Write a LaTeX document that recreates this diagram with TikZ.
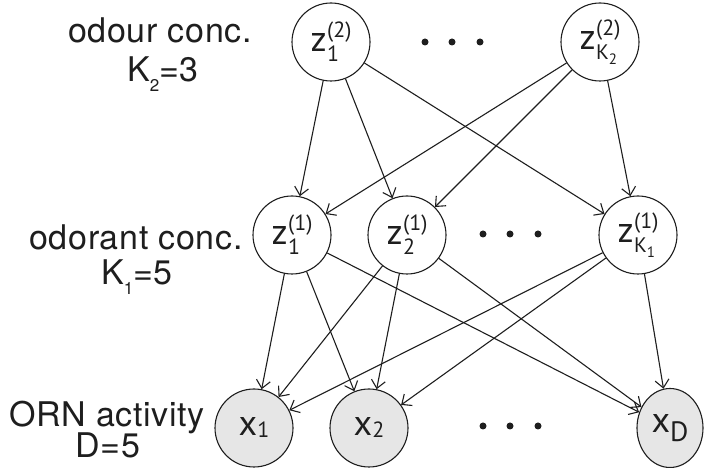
\documentclass[tikz,border=0pt]{standalone}
\usepackage{fontspec}
\setmainfont{TeX Gyre Heros}[LetterSpace=2]
\newfontfamily\nodefont{PT Sans}
\usetikzlibrary{arrows.meta,shapes.geometric}
\definecolor{obsgray}{HTML}{E6E6E6}
\definecolor{inkc}{HTML}{1E1E1E}
% subscript set below the baseline, as in K_2
\newcommand\lowsub[1]{\raisebox{-10pt}{\fontsize{17}{17}\selectfont #1}}
% script size inside the nodes
\newcommand\scr{\fontsize{22}{22}\selectfont}
% latent variable z with index #2 and level #1
\newcommand\zv[2]{z\kern0.5pt\rlap{\raisebox{-10pt}{\scr #2}}\raisebox{14pt}{\scr(#1)}}
% K index inside a node, with its own small index
\newcommand\kidx[1]{\fontsize{21}{21}\selectfont K\raisebox{-5pt}{\fontsize{15}{15}\selectfont #1}}
\begin{document}
\begin{tikzpicture}[x=1pt,y=1pt,inkc,
  var/.style={circle,draw,line width=1.1pt,minimum size=78pt,inner sep=0pt,
              font=\nodefont\fontsize{36}{36}\selectfont},
  obs/.style={var,fill=obsgray},
  lbl/.style={anchor=base,font=\fontsize{34}{34}\selectfont},
  edge/.style={line width=1.1pt,-{Straight Barb[length=8pt,width=14pt]}},
  dot/.style={circle,fill,inner sep=0pt,minimum size=7pt}]
\useasboundingbox (0,0) rectangle (705,468);

% layer labels
\node[lbl] (l2) at (160,425) {odour conc.};
\node[lbl] (k2) at (163,386) {K\lowsub{2}=3};
\node[lbl] (l1) at (136,218) {odorant conc.};
\node[lbl] (k1) at (137,183) {K\lowsub{1}=5};
\node[lbl] (l0) at (107,41) {ORN activity};
\node[lbl] (d0) at (108,10) {D=5};

% odour layer
\node[var] (a1) at (331,426) {\zv{2}{1}};
\node[var] (aK) at (600,426) {\zv{2}{\kidx{2}}};
\node[dot] (ad1) at (425,426) {};
\node[dot] (ad2) at (452,426) {};
\node[dot] (ad3) at (480,426) {};

% odorant layer
\node[var] (b1) at (292,233) {\zv{1}{1}};
\node[var] (b2) at (407,233) {\zv{1}{2}};
\node[var] (bK) at (638,233) {\zv{1}{\kidx{1}}};
\node[dot] (bd1) at (483,234) {};
\node[dot] (bd2) at (510,234) {};
\node[dot] (bd3) at (538,234) {};

% ORN layer
\node[obs] (c1) at (254,40) {x\raisebox{-2pt}{\scr 1}};
\node[obs] (c2) at (369,40) {x\raisebox{-2pt}{\scr 2}};
\node[obs,ellipse,minimum width=66pt,minimum height=79pt] (cD) at (670,40)
  {x\raisebox{-9pt}{\fontsize{28}{28}\selectfont D}};
\node[dot] (cd1) at (483,42) {};
\node[dot] (cd2) at (510,42) {};
\node[dot] (cd3) at (538,42) {};

% connections
\foreach \s in {a1,aK}
  \foreach \t in {b1,b2,bK}
    \draw[edge] (\s) -- (\t);
\foreach \s in {b1,b2,bK}
  \foreach \t in {c1,c2,cD}
    \draw[edge] (\s) -- (\t);
\end{tikzpicture}
\end{document}
